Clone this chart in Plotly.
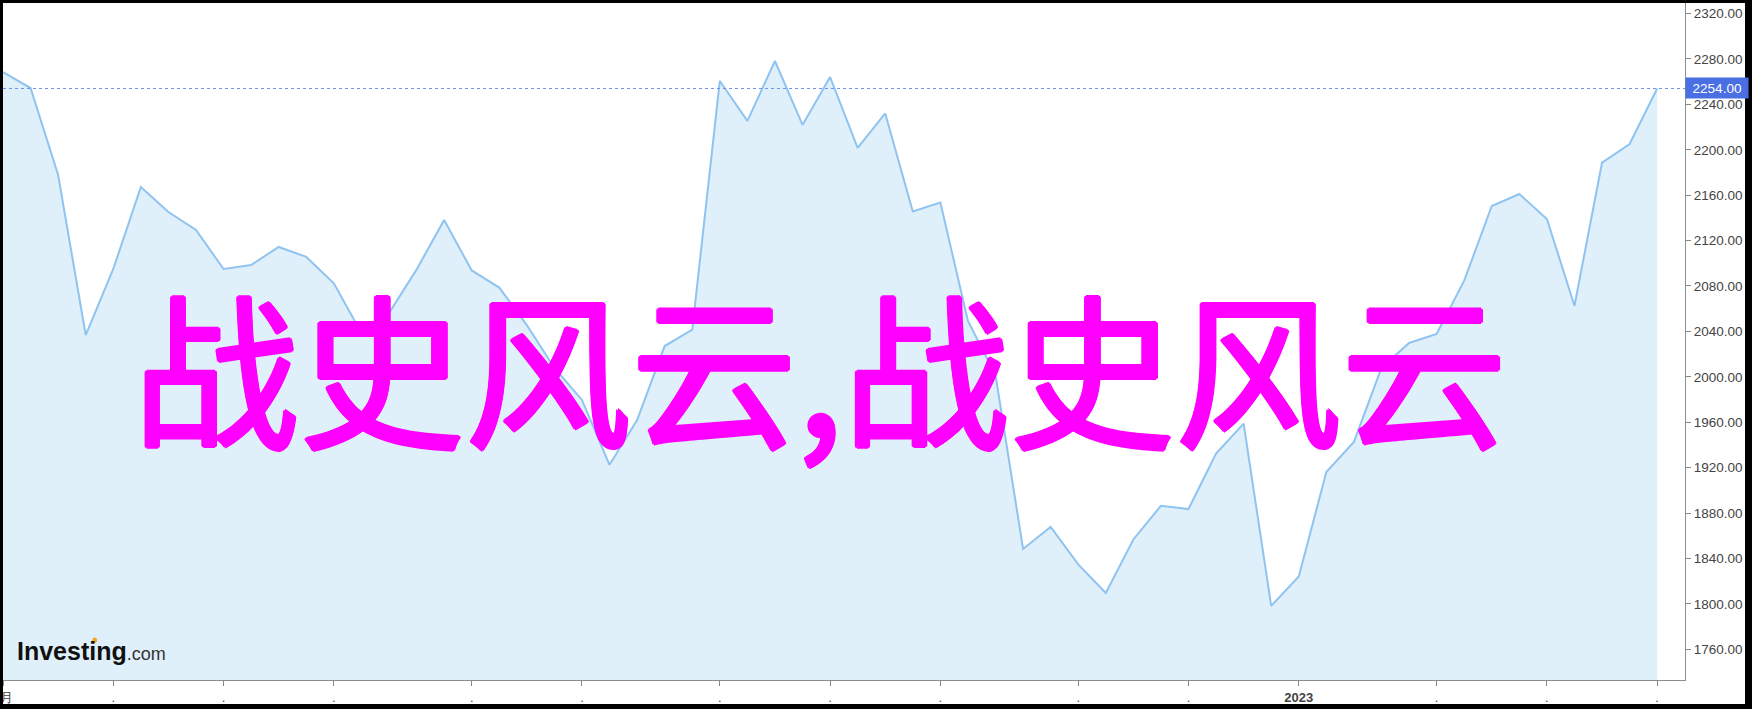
import pandas as pd
import plotly.graph_objects as go

# ---------------- data ----------------
start_date = "2022-02-06"
prices = [2268.5, 2254.4, 2177.8, 2036.8, 2095.0, 2167.2, 2145.2, 2129.3, 2095.0, 2098.5,
          2114.4, 2105.6, 2082.3, 2038.6, 2056.2, 2094.4, 2138.2, 2093.7, 2078.6, 2045.6,
          2007.8, 1979.6, 1922.5, 1961.9, 2027.1, 2041.5, 2260.6, 2225.4, 2278.2, 2221.9,
          2264.1, 2201.6, 2232.0, 2145.6, 2153.5, 2049.2, 2001.6, 1848.3, 1867.8, 1834.8,
          1809.5, 1856.7, 1886.4, 1883.5, 1932.4, 1958.7, 1798.2, 1824.1, 1916.1, 1942.7,
          2007.8, 2029.8, 2037.7, 2084.7, 2150.5, 2161.0, 2139.0, 2062.6, 2188.6, 2205.1,
          2254.0]
dates = pd.date_range(start_date, periods=len(prices), freq="7D")

x_tick_dates = ["2022-02-06", "2022-03-06", "2022-04-03", "2022-05-01", "2022-06-05",
                "2022-07-03", "2022-08-07", "2022-09-04", "2022-10-02", "2022-11-06",
                "2022-12-04", "2023-01-01", "2023-02-05", "2023-03-05", "2023-04-02"]
x_tick_text = ["2月", ".", ".", ".", ".", ".", ".", ".", ".", ".", ".",
               "<b>2023</b>", ".", ".", "."]
y_tick_vals = [1760, 1800, 1840, 1880, 1920, 1960, 2000, 2040, 2080, 2120,
               2160, 2200, 2240, 2280, 2320]
last_price = 2254.00
watermark = "战史风云,战史风云"

# ---------------- layout geometry ----------------
W, H = 1752, 709
ML, MR, MT, MB = 3, 67, 3, 29
PW, PH = W - ML - MR, H - MT - MB


def px(xp):
    return (xp - ML) / PW


def py(yp):
    return (H - MB - yp) / PH


fig = go.Figure()
fig.add_trace(go.Scatter(
    x=dates, y=prices, mode="lines",
    line=dict(color="#8fc3f0", width=2),
    fill="tozeroy", fillcolor="#e0f0fa",
    hoverinfo="skip", showlegend=False,
))

shapes = [
    dict(type="line", xref="paper", yref="y", x0=0, x1=1, y0=last_price, y1=last_price,
         line=dict(color="#6f8ff0", width=1, dash="dot"), layer="above"),
    # orange dot of the logo
    dict(type="circle", xref="paper", yref="paper",
         x0=px(92.5), x1=px(97), y0=py(643), y1=py(637.5),
         fillcolor="#f5a623", line=dict(width=0), layer="above"),
]
# black frame of the screenshot
for (a, b, c, d) in [(0, 3, 0, H), (W - 7, W, 0, H), (0, W, 0, 3), (0, W, H - 5, H)]:
    shapes.append(dict(type="rect", xref="paper", yref="paper",
                       x0=px(a), x1=px(b), y0=py(d), y1=py(c),
                       fillcolor="black", line=dict(width=0), layer="above"))

mg = "#ff00ff"
glow = ", ".join(f"{dx}px {dy}px 0 {mg}" for dx, dy in
                 [(2, 0), (-2, 0), (0, 2), (0, -2), (1.4, 1.4), (-1.4, 1.4), (1.4, -1.4), (-1.4, -1.4)])
annotations = [
    dict(xref="paper", yref="y", x=1, y=last_price, xanchor="left", yanchor="middle",
         text="%.2f" % last_price, showarrow=False, bgcolor="#4a6fe2",
         font=dict(family="Liberation Sans, Arial", size=13.5, color="white"),
         width=62, height=20, align="center", borderpad=0),
    dict(xref="paper", yref="paper", x=px(15), y=py(651), xanchor="left", yanchor="middle",
         text="<b>Investing</b><span style='font-size:18px;color:#333333'>.com</span>",
         showarrow=False, font=dict(family="Liberation Sans, Arial", size=25, color="#111111")),
    dict(xref="paper", yref="paper", x=px(820), y=py(363), xanchor="center", yanchor="middle",
         text=watermark, showarrow=False,
         font=dict(family="Noto Sans CJK SC", size=166, color=mg, shadow=glow)),
]

fig.update_layout(
    width=W, height=H,
    margin=dict(l=ML, r=MR, t=MT, b=MB, pad=0),
    paper_bgcolor="white", plot_bgcolor="white",
    showlegend=False,
    shapes=shapes, annotations=annotations,
    xaxis=dict(
        type="date",
        range=["2022-02-06", "2023-04-09 01:30"],
        tickmode="array", tickvals=x_tick_dates, ticktext=x_tick_text,
        ticks="outside", ticklen=5, tickwidth=1, tickcolor="#888888",
        showline=True, linecolor="#8c8c8c", linewidth=1,
        showgrid=False, zeroline=False, automargin=False,
        ticklabeloverflow="allow",
        tickfont=dict(family="Liberation Sans, Arial", size=13, color="#444444"),
    ),
    yaxis=dict(
        side="right",
        range=[1732.9, 2329.3],
        tickmode="array", tickvals=y_tick_vals, tickformat=".2f",
        ticks="outside", ticklen=5, tickwidth=1, tickcolor="#888888",
        showline=True, linecolor="#8c8c8c", linewidth=1,
        showgrid=False, zeroline=False, automargin=False,
        tickfont=dict(family="Liberation Sans, Arial", size=13.5, color="#444444"),
    ),
)

fig.write_html("out.html",
               config={"displayModeBar": False, "staticPlot": True},
               post_script="document.body.style.margin='0';document.body.style.overflow='hidden';")
